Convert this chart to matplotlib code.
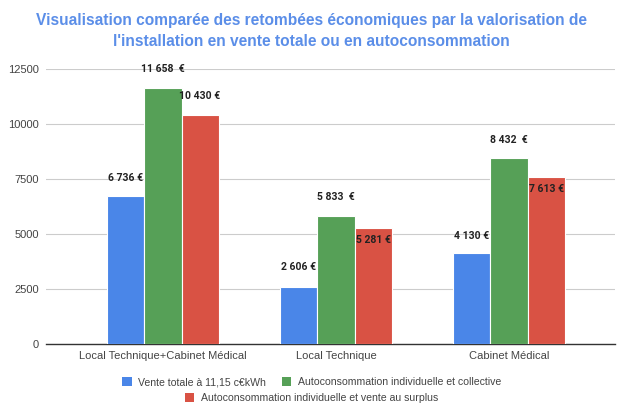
import numpy as np
import matplotlib
matplotlib.use("Agg")
from matplotlib import pyplot as plt
from matplotlib.patches import Patch

categories = ["Local Technique+Cabinet Médical", "Local Technique", "Cabinet Médical"]
series_names = ["Vente totale à 11,15 c€kWh",
                "Autoconsommation individuelle et collective",
                "Autoconsommation individuelle et vente au surplus"]
vente_totale = [6736, 2606, 4130]
autoconso_collective = [11658, 5833, 8432]
autoconso_surplus = [10430, 5281, 7613]
labels_vente = ["6 736 €", "2 606 €", "4 130 €"]
labels_collective = ["11 658  €", "5 833  €", "8 432  €"]
labels_surplus = ["10 430 €", "5 281 €", "7 613 €"]
y_ticks = [0, 2500, 5000, 7500, 10000, 12500]

colors = ["#4a86e8", "#56a057", "#d95244"]
# label offset in points per series (positive = above bar top, negative = inside)
label_offsets = [[13, 14, 12.5], [13, 13.5, 13], [13, -9, -9]]

plt.rcParams['font.family'] = ['Liberation Sans', 'DejaVu Sans']

fig = plt.figure(figsize=(6.23, 4.07), dpi=100)
ax = fig.add_axes([46 / 623, 1 - 344 / 407, (615 - 46) / 623, (344 - 69) / 407])

x = np.arange(len(categories))
width = 0.214
all_series = [vente_totale, autoconso_collective, autoconso_surplus]
all_labels = [labels_vente, labels_collective, labels_surplus]

for i, (vals, labs) in enumerate(zip(all_series, all_labels)):
    pos = x + (i - 1) * width
    ax.bar(pos, vals, width, color=colors[i], edgecolor="white", linewidth=0.8,
           zorder=3, label=series_names[i])
    for j, (p, v, lab) in enumerate(zip(pos, vals, labs)):
        dy = label_offsets[i][j]
        ax.annotate(lab, (p, v), xytext=(0, dy), textcoords="offset points",
                    ha="center", va="center", fontsize=7.5, fontweight="bold",
                    family=["Roboto", "DejaVu Sans"], color="#222222", zorder=4)

ax.set_xlim(-117 / 173, 2 + 106 / 173)
ax.set_ylim(0, 12500)
ax.set_yticks(y_ticks)
ax.set_yticklabels([str(t) for t in y_ticks])
ax.set_xticks(x)
ax.set_xticklabels(categories)
ax.grid(axis="y", color="#cccccc", linewidth=0.8, zorder=0)
for s in ["top", "right", "left"]:
    ax.spines[s].set_visible(False)
ax.spines["bottom"].set_color("#333333")
ax.spines["bottom"].set_linewidth(1.0)
ax.tick_params(axis="both", length=0, labelsize=8, colors="#444444")
ax.tick_params(axis="y", pad=5)
ax.tick_params(axis="x", pad=5)

fig.text(0.5, 1 - 21 / 407, "Visualisation comparée des retombées économiques par la valorisation de",
         ha="center", va="center", fontsize=11.2, fontweight="bold", color="#5b8ee8")
fig.text(0.5, 1 - 41 / 407, "l'installation en vente totale ou en autoconsommation",
         ha="center", va="center", fontsize=11.2, fontweight="bold", color="#5b8ee8")

handles = [Patch(facecolor=c, edgecolor="none") for c in colors]
leg1 = fig.legend(handles[:2], series_names[:2], loc="center", ncol=2,
                  bbox_to_anchor=(0.5, 1 - 382 / 407), frameon=False, fontsize=7.6,
                  handlelength=0.9, handleheight=0.9, handletextpad=0.6, columnspacing=1.5)
leg2 = fig.legend(handles[2:], series_names[2:], loc="center",
                  bbox_to_anchor=(0.5, 1 - 398 / 407), frameon=False, fontsize=7.6,
                  handlelength=0.9, handleheight=0.9, handletextpad=0.6)
for leg in (leg1, leg2):
    for t in leg.get_texts():
        t.set_color("#444444")

fig.savefig("out.png", dpi=100)
